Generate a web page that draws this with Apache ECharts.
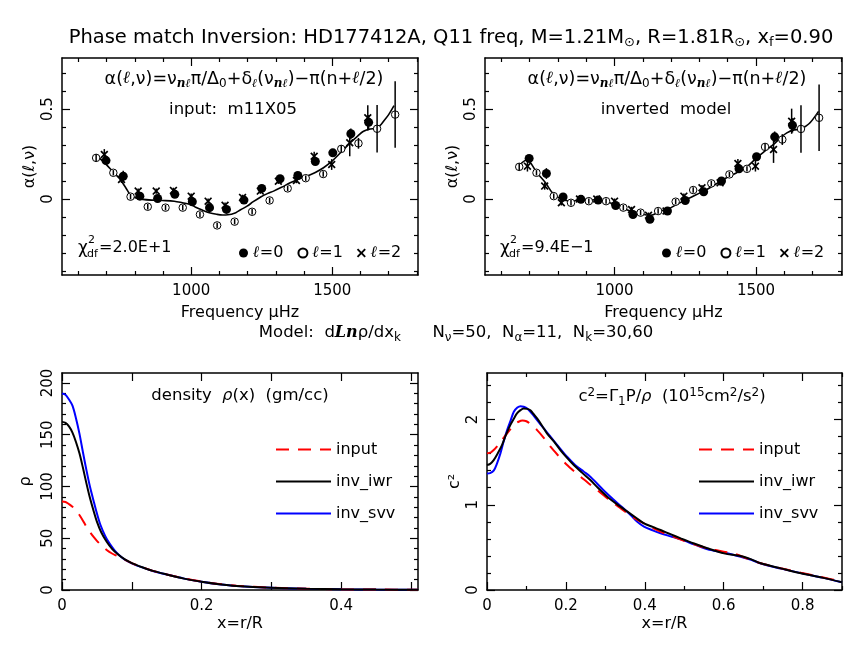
<!DOCTYPE html>
<html><head><meta charset="utf-8">
<script src="https://cdn.jsdelivr.net/npm/echarts@6/dist/echarts.min.js"></script>
<style>html,body{margin:0;padding:0;background:#fff}#c{width:865px;height:668px}</style>
</head><body><div id="c"></div>
<script>
const FONT = 'DejaVu Sans';

// ---------- top panels: observed frequencies (muHz) ----------
const freqL0 = [698,759,818,881,942,1004,1065,1125,1187,1250,1315,1378,1440,1502,1566,1629];
const freqL1 = [663,724,785,846,909,970,1031,1092,1154,1216,1278,1342,1406,1468,1532,1593,1659,1723];
const freqL2 = [692,753,812,876,937,1000,1060,1120,1182,1245,1309,1373,1436,1498,1562,1626];
// error bars
const errL0 = [0.01,0.03,0.01,0.01,0.01,0.01,0.01,0.01,0.01,0.012,0.012,0.012,0.015,0.02,0.03,0.04];
const errL1 = [0.02,0.015,0.015,0.015,0.015,0.015,0.015,0.015,0.015,0.015,0.015,0.015,0.015,0.015,0.02,0.03,0.132,0.185];
const errL2 = [0.03,0.02,0.015,0.015,0.015,0.015,0.015,0.015,0.015,0.015,0.015,0.015,0.025,0.03,0.075,0.07];
// input model alpha
const inL0 = [0.214,0.127,0.016,0.003,0.026,-0.015,-0.048,-0.058,-0.006,0.059,0.113,0.131,0.209,0.257,0.363,0.427];
const inL1 = [0.229,0.146,0.013,-0.043,-0.048,-0.048,-0.086,-0.147,-0.126,-0.071,-0.008,0.059,0.116,0.139,0.279,0.31,0.391,0.47];
const inL2 = [0.248,0.109,0.044,0.044,0.048,0.016,-0.012,-0.035,0.009,0.044,0.099,0.103,0.238,0.192,0.313,0.452];
const inCurve = [[673,0.23],[700,0.19],[721,0.155],[745,0.115],[768,0.063],[786,0.02],[805,0.005],[828,-0.002],[860,-0.006],[898,-0.008],[940,-0.012],[969,-0.021],[1000,-0.032],[1016,-0.046],[1040,-0.062],[1064,-0.076],[1090,-0.085],[1111,-0.089],[1130,-0.088],[1158,-0.076],[1175,-0.06],[1198,-0.04],[1220,-0.015],[1245,0.01],[1270,0.03],[1292,0.044],[1320,0.065],[1351,0.09],[1380,0.11],[1410,0.127],[1440,0.148],[1469,0.174],[1495,0.205],[1517,0.238],[1540,0.275],[1564,0.313],[1590,0.35],[1611,0.377],[1635,0.39],[1652,0.392],[1670,0.41],[1682,0.433],[1700,0.47],[1719,0.52]];
// inverted model alpha
const invL0 = [0.226,0.142,0.011,-0.002,-0.006,-0.036,-0.086,-0.113,-0.067,-0.008,0.04,0.10,0.168,0.235,0.346,0.41];
const invL1 = [0.179,0.146,0.016,-0.021,-0.012,-0.012,-0.048,-0.076,-0.067,-0.015,0.05,0.087,0.137,0.168,0.29,0.331,0.39,0.452];
const invL2 = [0.183,0.072,-0.021,0.0,0.0,-0.012,-0.058,-0.09,-0.067,0.016,0.063,0.09,0.198,0.183,0.276,0.433];
const invCurve = [[667,0.192],[688,0.216],[699,0.21],[726,0.146],[756,0.09],[785,0.026],[820,-0.006],[850,-0.012],[880,-0.002],[910,-0.004],[939,-0.006],[974,-0.017],[1009,-0.036],[1057,-0.067],[1104,-0.086],[1127,-0.091],[1163,-0.067],[1190,-0.055],[1220,-0.03],[1255,-0.002],[1290,0.025],[1326,0.053],[1360,0.085],[1396,0.118],[1430,0.145],[1467,0.178],[1502,0.229],[1530,0.265],[1561,0.303],[1585,0.338],[1609,0.368],[1635,0.385],[1656,0.387],[1675,0.405],[1691,0.424],[1721,0.488]];

// ---------- bottom left: density ----------
const rhoInput = [[0,85.5],[0.005,85],[0.01,83],[0.015,80.5],[0.02,77.5],[0.025,72.5],[0.03,67],[0.035,61],[0.04,56],[0.045,51.5],[0.05,47.5],[0.057,42.8],[0.064,38.6],[0.071,35.5],[0.078,33.2],[0.085,31],[0.09,29.3],[0.1,26],[0.115,22],[0.13,18.5],[0.15,15],[0.175,11.2],[0.2,8.2],[0.225,5.8],[0.25,4.1],[0.3,2.2],[0.35,1.2],[0.4,0.7],[0.45,0.4],[0.51,0.3]];
const rhoIwr = [[0,162.4],[0.005,161.5],[0.01,158],[0.015,152],[0.02,143],[0.025,132],[0.03,118],[0.035,103],[0.04,89],[0.045,77],[0.05,66],[0.056,56],[0.064,46.6],[0.072,39.5],[0.08,34.5],[0.09,29.5],[0.1,26],[0.115,22],[0.13,18.5],[0.15,15],[0.175,11],[0.2,8],[0.225,5.6],[0.25,3.9],[0.3,2.1],[0.35,1.2],[0.4,0.7],[0.45,0.4],[0.51,0.3]];
const rhoSvv = [[0,189.7],[0.005,188.5],[0.01,184],[0.015,178],[0.02,166],[0.025,151],[0.03,133],[0.035,115.8],[0.04,100],[0.045,86.8],[0.05,74],[0.055,63],[0.062,52],[0.068,45],[0.075,38.5],[0.082,33.5],[0.09,29.3],[0.1,25.8],[0.115,21.8],[0.13,18.4],[0.15,14.9],[0.175,11],[0.2,8],[0.225,5.6],[0.25,3.9],[0.3,2.1],[0.35,1.2],[0.4,0.7],[0.45,0.4],[0.51,0.3]];

// ---------- bottom right: sound speed squared ----------
const c2Input = [[0,1.603],[0.01,1.615],[0.017,1.642],[0.028,1.70],[0.038,1.759],[0.048,1.82],[0.059,1.884],[0.07,1.94],[0.08,1.974],[0.09,1.99],[0.1,1.98],[0.112,1.94],[0.127,1.876],[0.145,1.78],[0.161,1.681],[0.18,1.58],[0.199,1.485],[0.218,1.405],[0.237,1.329],[0.258,1.25],[0.279,1.173],[0.3,1.095],[0.322,1.016],[0.34,0.955],[0.356,0.899],[0.377,0.835],[0.398,0.782],[0.42,0.73],[0.44,0.684],[0.462,0.645],[0.483,0.606],[0.52,0.545],[0.559,0.489],[0.6,0.45],[0.627,0.425],[0.66,0.37],[0.694,0.313],[0.745,0.255],[0.796,0.203],[0.85,0.15],[0.9,0.098]];
const c2Iwr = [[0,1.466],[0.008,1.48],[0.017,1.524],[0.028,1.61],[0.038,1.70],[0.048,1.82],[0.059,1.935],[0.068,2.01],[0.076,2.071],[0.085,2.11],[0.093,2.13],[0.102,2.125],[0.11,2.11],[0.118,2.065],[0.127,2.013],[0.14,1.925],[0.152,1.837],[0.17,1.74],[0.186,1.642],[0.203,1.55],[0.22,1.466],[0.24,1.38],[0.262,1.29],[0.283,1.19],[0.305,1.095],[0.33,1.005],[0.356,0.919],[0.377,0.85],[0.398,0.782],[0.42,0.74],[0.44,0.704],[0.465,0.655],[0.491,0.606],[0.525,0.545],[0.559,0.489],[0.601,0.43],[0.643,0.399],[0.67,0.36],[0.694,0.313],[0.745,0.254],[0.796,0.196],[0.85,0.145],[0.9,0.09]];
const c2Svv = [[0,1.368],[0.008,1.372],[0.017,1.40],[0.025,1.48],[0.034,1.603],[0.042,1.74],[0.051,1.876],[0.06,1.99],[0.068,2.091],[0.077,2.14],[0.085,2.157],[0.093,2.15],[0.102,2.13],[0.114,2.07],[0.127,1.993],[0.144,1.895],[0.161,1.798],[0.182,1.68],[0.203,1.563],[0.224,1.465],[0.245,1.39],[0.262,1.33],[0.279,1.25],[0.3,1.15],[0.322,1.056],[0.343,0.97],[0.364,0.88],[0.381,0.80],[0.398,0.743],[0.42,0.70],[0.44,0.665],[0.465,0.63],[0.491,0.595],[0.525,0.535],[0.559,0.477],[0.6,0.44],[0.643,0.391],[0.67,0.355],[0.694,0.31],[0.745,0.252],[0.796,0.198],[0.85,0.145],[0.9,0.09]];

// ---------- axis ticks ----------
const freqMajor = [1000,1500];
const freqMinor = [600,700,800,900,1100,1200,1300,1400,1600,1700,1800];
const alphaMajor = [0,0.5];
const alphaMinor = [-0.4,-0.3,-0.2,-0.1,0.1,0.2,0.3,0.4,0.6,0.7];
const rxMajor = [0,0.1,0.2,0.3,0.4,0.5];
const rxLabels = [0,0.2,0.4];
const rhoMajor = [0,50,100,150,200];
const rhoMinor = [10,20,30,40,60,70,80,90,110,120,130,140,160,170,180,190];
const cxMajor = [0,0.2,0.4,0.6,0.8];
const cxMinor = [0.1,0.3,0.5,0.7,0.9];
const c2Major = [0,1,2];
const c2Minor = [0.2,0.4,0.6,0.8,1.2,1.4,1.6,1.8,2.2,2.4];

const grids = [
  {left:62, top:58, width:356, height:217},
  {left:485, top:58, width:357, height:217},
  {left:62, top:373, width:356, height:217},
  {left:487, top:373, width:355, height:217}
];

const xAxes = [], yAxes = [];
const lineSt = {color:'#000', width:1.5};
function addAxes(list, gi, dim, min, max, major, minor, labels, extra) {
  const idx = list.length;
  const posA = dim === 'x' ? 'bottom' : 'left';
  const posB = dim === 'x' ? 'top' : 'right';
  const base = {type:'value', gridIndex:gi, min:min, max:max, splitLine:{show:false}, silent:true,
    axisLine:{show:false, onZero:false}, axisLabel:{show:false}, axisTick:{show:false}};
  const main = Object.assign({}, base, {
    position: posA,
    axisLine:{show:true, onZero:false, lineStyle:lineSt},
    axisTick:{show:true, inside:true, length:8, customValues:major, lineStyle:{color:'#000', width:1.2}},
    axisLabel:{show:true, customValues:labels, color:'#000', fontFamily:FONT, fontSize:15,
      margin: dim === 'x' ? 9 : 6, rotate: dim === 'x' ? 0 : 90, formatter: v => String(v)}
  }, extra || {});
  list.push(main);
  list.push(Object.assign({}, base, {position:posA,
    axisTick:{show:minor.length>0, inside:true, length:4, customValues:minor, lineStyle:{color:'#000', width:1.2}}}));
  list.push(Object.assign({}, base, {position:posB,
    axisLine:{show:true, onZero:false, lineStyle:lineSt},
    axisTick:{show:true, inside:true, length:8, customValues:major, lineStyle:{color:'#000', width:1.2}}}));
  list.push(Object.assign({}, base, {position:posB,
    axisTick:{show:minor.length>0, inside:true, length:4, customValues:minor, lineStyle:{color:'#000', width:1.2}}}));
  return idx;
}
const nameX = {nameLocation:'middle', nameGap:30, nameTextStyle:{fontFamily:FONT, fontSize:16, color:'#000'}};
const nameY = (gap) => ({nameLocation:'middle', nameGap:gap, nameRotate:90, nameTextStyle:{fontFamily:FONT, fontSize:16, color:'#000'}});

const ax = [
  addAxes(xAxes, 0, 'x', 542, 1804, freqMajor, freqMinor, freqMajor, Object.assign({name:'Frequency μHz'}, nameX)),
  addAxes(xAxes, 1, 'x', 542, 1804, freqMajor, freqMinor, freqMajor, Object.assign({name:'Frequency μHz'}, nameX)),
  addAxes(xAxes, 2, 'x', 0, 0.51, rxMajor, [], rxLabels, Object.assign({name:'x=r/R'}, nameX, {nameGap:26})),
  addAxes(xAxes, 3, 'x', 0, 0.9, cxMajor, cxMinor, cxMajor, Object.assign({name:'x=r/R'}, nameX, {nameGap:26}))
];
const ay = [
  addAxes(yAxes, 0, 'y', -0.423, 0.785, alphaMajor, alphaMinor, alphaMajor, Object.assign({name:'α(ℓ,ν)'}, nameY(24))),
  addAxes(yAxes, 1, 'y', -0.423, 0.785, alphaMajor, alphaMinor, alphaMajor, Object.assign({name:'α(ℓ,ν)'}, nameY(24))),
  addAxes(yAxes, 2, 'y', 0, 209.6, rhoMajor, rhoMinor, rhoMajor, Object.assign({name:'ρ'}, nameY(28))),
  addAxes(yAxes, 3, 'y', 0, 2.546, c2Major, c2Minor, c2Major, Object.assign({name:'c²'}, nameY(24)))
];

const XMARK = 'path://M0,1.5L1.5,0L5,3.5L8.5,0L10,1.5L6.5,5L10,8.5L8.5,10L5,6.5L1.5,10L0,8.5L3.5,5Z';
function pts(f, a) { return f.map((v, i) => [v, a[i]]); }
function errPts(f, a, e) { return f.map((v, i) => [v, a[i], e[i]]); }

function topSeries(g, L0, L1, L2, curve) {
  const xi = ax[g], yi = ay[g];
  const errData = errPts(freqL0, L0, errL0).concat(errPts(freqL1, L1, errL1), errPts(freqL2, L2, errL2));
  return [
    {type:'line', name:'curve'+g, xAxisIndex:xi, yAxisIndex:yi, data:curve, smooth:0.35, symbol:'none',
     lineStyle:{color:'#000', width:1.6}, itemStyle:{color:'#000'}, z:2},
    {type:'scatter', name:'ℓ=0', xAxisIndex:xi, yAxisIndex:yi, data:pts(freqL0, L0), symbol:'circle', symbolSize:9,
     itemStyle:{color:'#000', opacity:1}, z:3},
    {type:'scatter', name:'ℓ=1', xAxisIndex:xi, yAxisIndex:yi, data:pts(freqL1, L1), symbol:'circle', symbolSize:7.5,
     itemStyle:{color:'#fff', borderColor:'#000', borderWidth:1, opacity:1}, z:3},
    {type:'scatter', name:'ℓ=2', xAxisIndex:xi, yAxisIndex:yi, data:pts(freqL2, L2), symbol:XMARK, symbolSize:8,
     itemStyle:{color:'#000', opacity:1}, z:3},
    {type:'custom', name:'err'+g, xAxisIndex:xi, yAxisIndex:yi, data:errData, encode:{x:0, y:1}, z:4,
     renderItem: function (params, api) {
       const x = api.value(0), y = api.value(1), e = api.value(2);
       const p1 = api.coord([x, y - e]), p2 = api.coord([x, y + e]);
       return {type:'line', shape:{x1:p1[0], y1:p1[1], x2:p2[0], y2:p2[1]}, style:{stroke:'#000', lineWidth:1.5}};
     }}
  ];
}
function profSeries(g, inp, iwr, svv) {
  const xi = ax[g], yi = ay[g];
  return [
    {type:'line', name:'input', xAxisIndex:xi, yAxisIndex:yi, data:inp, smooth:0.3, symbol:'none',
     itemStyle:{color:'#ff0000'}, lineStyle:{color:'#ff0000', width:2, type:[13,9]}, z:3},
    {type:'line', name:'inv_iwr', xAxisIndex:xi, yAxisIndex:yi, data:iwr, smooth:0.3, symbol:'none',
     itemStyle:{color:'#000'}, lineStyle:{color:'#000', width:2}, z:4},
    {type:'line', name:'inv_svv', xAxisIndex:xi, yAxisIndex:yi, data:svv, smooth:0.3, symbol:'none',
     itemStyle:{color:'#0000ff'}, lineStyle:{color:'#0000ff', width:2}, z:2}
  ];
}

const series = [].concat(
  topSeries(0, inL0, inL1, inL2, inCurve),
  topSeries(1, invL0, invL1, invL2, invCurve),
  profSeries(2, rhoInput, rhoIwr, rhoSvv),
  profSeries(3, c2Input, c2Iwr, c2Svv)
);

const legTxt = {fontFamily:FONT, fontSize:16, color:'#000', lineHeight:18,
  rich:{l:{fontFamily:'DejaVu Serif', fontStyle:'italic', fontWeight:'bold', fontSize:16, color:'#000'},
        t:{fontFamily:FONT, fontSize:16, color:'#000'}}};
const topLegend = (left) => ({data:['ℓ=0','ℓ=1','ℓ=2'], left:left, top:239, orient:'horizontal', itemWidth:9, itemHeight:9,
  itemGap:14, textStyle:legTxt, formatter: n => '{l|ℓ}{t|' + n.slice(1) + '}', selectedMode:false});
const botLegend = (left) => ({data:['input','inv_iwr','inv_svv'], left:left, top:436, orient:'vertical', itemWidth:55, itemHeight:14,
  itemGap:15, textStyle:{fontFamily:FONT, fontSize:16, color:'#000', lineHeight:17}, selectedMode:false,
  itemStyle:{color:'rgba(0,0,0,0)', borderColor:'rgba(0,0,0,0)', borderWidth:0, opacity:0}});

const R = {
  s:{fontFamily:FONT, fontSize:12, padding:[9,0,0,0], fill:'#000'},
  p:{fontFamily:FONT, fontSize:12, padding:[0,0,9,0], fill:'#000'},
  l:{fontFamily:'DejaVu Serif', fontStyle:'italic', fontWeight:'bold', fontSize:17, fill:'#000'},
  sl:{fontFamily:'DejaVu Serif', fontStyle:'italic', fontWeight:'bold', fontSize:12, padding:[9,0,0,0], fill:'#000'},
  g:{fontFamily:FONT, fontStyle:'italic', fontSize:16, fill:'#000'},
  L:{fontFamily:'DejaVu Serif', fontStyle:'italic', fontWeight:'bold', fontSize:16, fill:'#000'},
  ts:{fontFamily:FONT, fontSize:13, padding:[10,0,0,0], fill:'#000'}
};
function txt(x, y, text, size, align) {
  return {type:'text', x:x, y:y, silent:true, style:{text:text, rich:R, fontFamily:FONT, fontSize:size, fill:'#000',
    align:align || 'center', textAlign:align || 'center', verticalAlign:'middle', textVerticalAlign:'middle'}};
}
const formula = 'α({l|ℓ},ν)=ν{sl|nℓ}π/Δ{s|0}+δ{sl|ℓ}(ν{sl|nℓ})−π(n+{l|ℓ}/2)';
function chi(x, y, val) {
  return [txt(x, y + 1, 'χ', 17, 'left'), txt(x + 10, y - 8, '2', 11, 'left'), txt(x + 9, y + 6, 'df', 11, 'left'),
          txt(x + 21, y, val, 16, 'left')];
}
const graphics = [
  txt(451, 38, 'Phase match Inversion: HD177412A, Q11 freq, M=1.21M{ts|⊙}, R=1.81R{ts|⊙}, x{ts|f}=0.90', 19.5),
  txt(244, 79, formula, 17.5),
  txt(233, 110, 'input:  m11X05', 16.5),
  txt(667, 79, formula, 17.5),
  txt(666, 110, 'inverted  model', 16.5),
  txt(456, 333, 'Model:  d{L|Ln}ρ/dx{s|k}      N{s|ν}=50,  N{s|α}=11,  N{s|k}=30,60', 16.5),
  txt(240, 396, 'density  {g|ρ}(x)  (gm/cc)', 16.5),
  txt(672, 397, 'c{p|2}=Γ{s|1}P/{g|ρ}  (10{p|15}cm{p|2}/s{p|2})', 16.5)
].concat(chi(78, 248, '=2.0E+1'), chi(500, 248, '=9.4E−1'));

const chart = echarts.init(document.getElementById('c'));
chart.setOption({
  animation:false,
  backgroundColor:'#fff',
  grid:grids,
  xAxis:xAxes,
  yAxis:yAxes,
  legend:[topLegend(234), topLegend(657), botLegend(270), botLegend(693)],
  series:series,
  graphic:graphics
});
</script></body></html>
